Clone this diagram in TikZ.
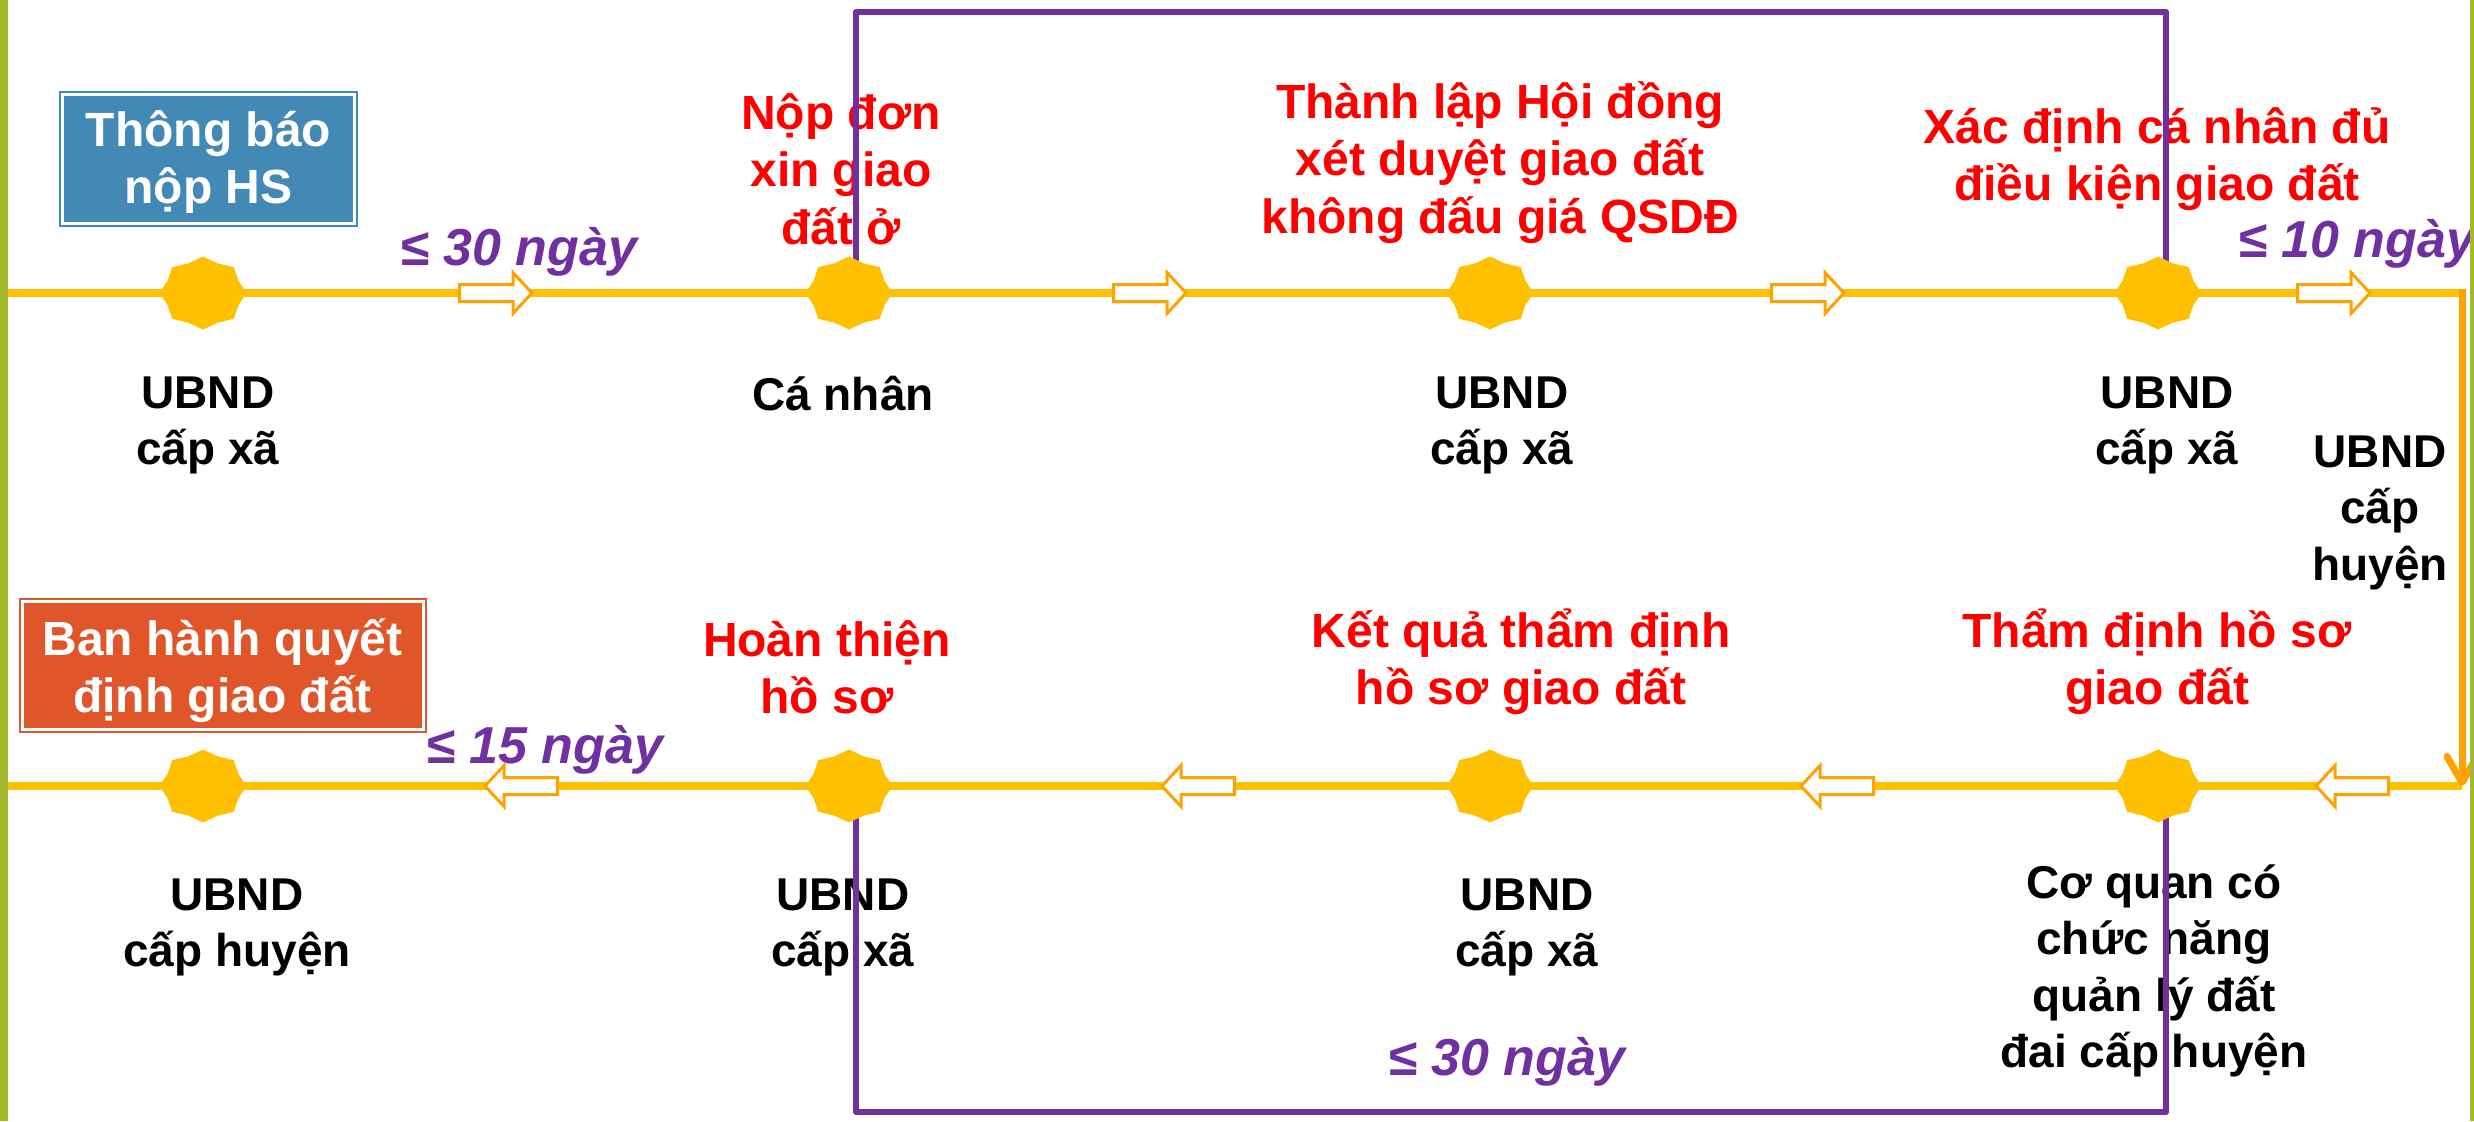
\documentclass[tikz,border=0pt]{standalone}
\usepackage{fontspec}
\setmainfont{Liberation Sans}
\usetikzlibrary{arrows.meta}
\definecolor{gold}{HTML}{FFC000}
\definecolor{arrorange}{HTML}{FFA200}
\definecolor{purp}{HTML}{7030A0}
\definecolor{barg}{HTML}{A4B92B}
\definecolor{boxblue}{HTML}{4389B5}
\definecolor{boxorange}{HTML}{E0552A}
\definecolor{lblred}{HTML}{FF0000}
\newcommand\burstat[1]{\fill[gold, shift={(#1)}] (0:43.5 and 36.5) \foreach \k in {1,...,15}{ -- ({\k*22.5}:{43.5*(1-0.12*mod(\k,2))} and {36.5*(1-0.12*mod(\k,2))}) } -- cycle;}
\begin{document}
\begin{tikzpicture}[x=0.5pt,y=-0.5pt,
  mainline/.style={draw=gold, line width=4pt},
  vline/.style={draw=arrorange, line width=3.5pt, -{Straight Barb[length=13pt, width=15pt, round]}},
  purpline/.style={draw=purp, line width=3pt, line join=round},
  redlbl/.style={text=lblred, font=\bfseries\fontsize{24}{28.75}\selectfont, align=center, anchor=base, inner sep=0pt},
  blklbl/.style={text=black, font=\bfseries\fontsize{23}{28.25}\selectfont, align=center, anchor=base, inner sep=0pt},
  daylbl/.style={text=purp, font=\bfseries\itshape\fontsize{26}{30}\selectfont, anchor=base, inner sep=0pt},
  boxframe/.style={line width=1pt, double=white, double distance=1.5pt, inner sep=0pt},
  boxtext/.style={text=white, font=\bfseries\fontsize{24}{28.5}\selectfont, align=center, anchor=base, inner sep=0pt},
  blockarr/.pic={\draw[arrorange, line width=1.5pt, fill=white, line join=miter] (1.5,-8.5) -- (55,-8.5) -- (55,-20.5) -- (74,0) -- (55,20.5) -- (55,8.5) -- (1.5,8.5) -- cycle;}
]
\useasboundingbox[fill=white] (0,0) rectangle (2474,1121);

% coordinates
\coordinate (L1) at (6,293);
\coordinate (L2) at (6,786);
\coordinate (R1) at (2462,293);
\coordinate (R2) at (2462,786);
\coordinate (s1) at (203,293);
\coordinate (s2) at (849,293);
\coordinate (s3) at (1490,293);
\coordinate (s4) at (2158,293);
\coordinate (s5) at (2158,786);
\coordinate (s6) at (1490,786);
\coordinate (s7) at (849,786);
\coordinate (s8) at (203,786);
\coordinate (pa) at (856,293);
\coordinate (pd) at (2166,293);
\coordinate (pc) at (856,786);
\coordinate (pf) at (2166,786);
\coordinate (ptop) at (0,12);
\coordinate (pbot) at (0,1112);

% boxes
\node[boxframe, fill=boxblue, draw=boxblue, minimum width=146pt, minimum height=64.5pt] (b1) at (208.5,159) {};
\node[boxtext] (b1t) at (208.5,203) {Thông báo\\nộp HS};
\node[boxframe, fill=boxorange, draw=boxorange, minimum width=200.5pt, minimum height=64pt] (b2) at (222.5,665) {};
\node[boxtext] (b2t) at (222.5,712) {Ban hành quyết\\định giao đất};

% red labels (anchor = baseline of last line)
\node[redlbl] (r1) at (841,244) {Nộp đơn\\xin giao\\đất ở};
\node[redlbl] (r2) at (1500,233) {Thành lập Hội đồng\\xét duyệt giao đất\\không đấu giá QSDĐ};
\node[redlbl] (r3) at (2157,200.5) {Xác định cá nhân đủ\\điều kiện giao đất};
\node[redlbl] (r4) at (827,713.5) {Hoàn thiện\\hồ sơ};
\node[redlbl] (r5) at (1521,704.5) {Kết quả thẩm định\\hồ sơ giao đất};
\node[redlbl] (r6) at (2157,704.5) {Thẩm định hồ sơ\\giao đất};

% black labels
\node[blklbl] (k1) at (208,464.5) {UBND\\cấp xã};
\node[blklbl] (k2) at (843,410) {Cá nhân};
\node[blklbl] (k3) at (1502,464.5) {UBND\\cấp xã};
\node[blklbl] (k4) at (2167,464.5) {UBND\\cấp xã};
\node[blklbl] (k5) at (2380,580) {UBND\\cấp\\huyện};
\node[blklbl] (k6) at (237,966.5) {UBND\\cấp huyện};
\node[blklbl] (k7) at (843,966.5) {UBND\\cấp xã};
\node[blklbl] (k8) at (1527,966.5) {UBND\\cấp xã};
\node[blklbl] (k9) at (2154,1067.5) {Cơ quan có\\chức năng\\quản lý đất\\đai cấp huyện};

% day labels
\node[daylbl] (t1) at (519,265) {≤ 30 ngày};
\node[daylbl, anchor=base west] (t2) at (2238,257) {≤ 10 ngày};
\node[daylbl] (t3) at (545,763) {≤ 15 ngày};
\node[daylbl] (t4) at (1507,1075) {≤ 30 ngày};

% purple brackets
\draw[purpline] (pa) -- (pa |- ptop) -- (pd |- ptop) -- (pd);
\draw[purpline] (pc) -- (pc |- pbot) -- (pf |- pbot) -- (pf);

% main lines
\draw[mainline] (L1) -- (s1) -- (s2) -- (s3) -- (s4) -- (R1);
\draw[mainline] (R2) -- (s5) -- (s6) -- (s7) -- (s8) -- (L2);
\draw[vline] ([yshift=2pt]R1) -- (R2);

% stars
\foreach \s in {s1,s2,s3,s4,s5,s6,s7,s8}{\burstat{\s}}

% block arrows
\pic at (458,293) {blockarr};
\pic at (1112,293) {blockarr};
\pic at (1770,293) {blockarr};
\pic at (2296,293) {blockarr};
\pic[rotate=180] at (2390,786) {blockarr};
\pic[rotate=180] at (1875,786) {blockarr};
\pic[rotate=180] at (1236,786) {blockarr};
\pic[rotate=180] at (559,786) {blockarr};

% side bars
\fill[barg] (0,0) rectangle (8,1121);
\fill[barg] (2470,0) rectangle (2474,1121);
\end{tikzpicture}
\end{document}
